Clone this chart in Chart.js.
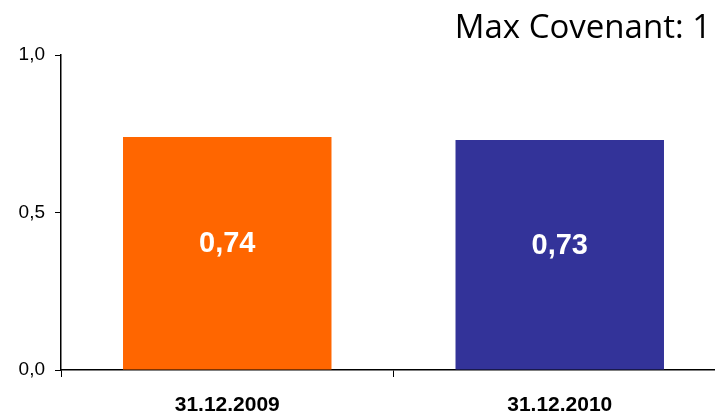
<!DOCTYPE html>
<html><head><meta charset="utf-8">
<style>html,body{margin:0;padding:0;background:#fff;overflow:hidden;width:715px;height:412px}
#wrap{width:726px;height:412px;position:relative}</style>
<script src="https://cdn.jsdelivr.net/npm/chart.js@4/dist/chart.umd.min.js"></script>
</head><body><div id="wrap"><canvas id="c" width="726" height="412"></canvas></div>
<script>
const categories = ["31.12.2009", "31.12.2010"];
const values = [0.74, 0.73];
const barColors = ["#FF6600", "#333399"];
const yTicks = [0, 0.5, 1.0];
const titleText = "Max Covenant: 1";

const fmt = v => v.toFixed(1).replace('.', ',');

const labelPlugin = {
  id: 'labels',
  afterDatasetsDraw(chart) {
    const ctx = chart.ctx;
    const meta = chart.getDatasetMeta(0);
    ctx.save();
    ctx.fillStyle = '#fff';
    ctx.font = 'bold 29px "Liberation Sans", Arial, sans-serif';
    ctx.textAlign = 'center';
    ctx.textBaseline = 'middle';
    meta.data.forEach((bar, i) => {
      const v = values[i];
      const mid = (bar.y + bar.base) / 2 - 9;
      ctx.fillText(v.toFixed(2).replace('.', ','), bar.x, mid);
    });
    ctx.restore();
  },
  afterDraw(chart) {
    const ctx = chart.ctx;
    ctx.save();
    ctx.fillStyle = '#000';
    ctx.font = '33px "Open Sans", "Liberation Sans", sans-serif';
    ctx.textAlign = 'right';
    ctx.textBaseline = 'alphabetic';
    ctx.fillText(titleText, 711, 38);
    ctx.restore();
  }
};

new Chart(document.getElementById('c'), {
  type: 'bar',
  data: {
    labels: categories,
    datasets: [{
      data: values,
      backgroundColor: barColors,
      borderWidth: 0,
      categoryPercentage: 1,
      barPercentage: 0.627
    }]
  },
  options: {
    responsive: false,
    maintainAspectRatio: false,
    animation: false,
    devicePixelRatio: 1,
    layout: { padding: { top: 55, right: 0, left: 0, bottom: 0 } },
    plugins: { legend: { display: false }, tooltip: { enabled: false }, title: { display: false } },
    scales: {
      x: {
        grid: { display: true, drawOnChartArea: false, drawTicks: true, tickLength: 7, color: '#000', offset: true },
        border: { color: '#000', width: 1.5 },
        ticks: { color: '#000', font: { family: '"Liberation Sans", Arial, sans-serif', size: 21, weight: 'bold' }, padding: 16, maxRotation: 0 },
        afterFit(s) { s.height = 42; }
      },
      y: {
        min: 0, max: 1,
        afterBuildTicks(s) { s.ticks = yTicks.map(v => ({ value: v })); },
        grid: { display: true, drawOnChartArea: false, drawTicks: true, tickLength: 6, color: '#000' },
        border: { color: '#000', width: 1.5 },
        ticks: { color: '#000', font: { family: '"Liberation Sans", Arial, sans-serif', size: 19 }, padding: 10,
          callback: v => fmt(v) },
        afterFit(s) { s.width = 61; }
      }
    }
  },
  plugins: [labelPlugin]
});
</script>
</body></html>
